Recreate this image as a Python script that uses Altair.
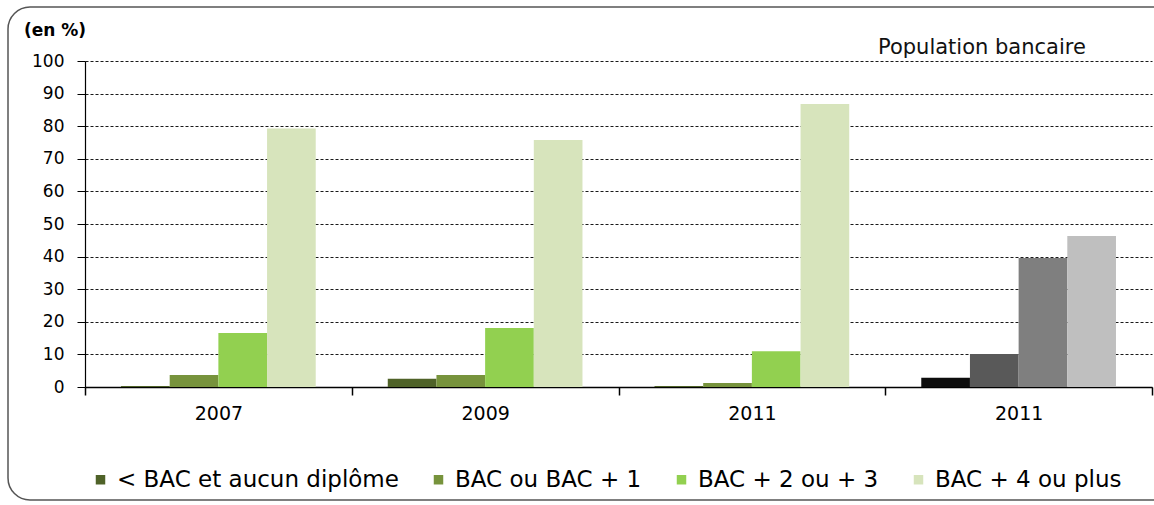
import json
import altair as alt
import pandas as pd

# Share of each education level, by survey year (last group: population bancaire)
years = ["2007", "2009", "2011", "2011"]
series = ["< BAC et aucun diplôme", "BAC ou BAC + 1", "BAC + 2 ou + 3", "BAC + 4 ou plus"]
below_bac = [0.3, 2.5, 0.3, 2.8]
bac_plus1 = [3.7, 3.7, 1.2, 10.1]
bac_plus3 = [16.6, 18.1, 11.0, 39.6]
bac_plus4 = [79.3, 75.8, 86.8, 46.3]

green_shades = ["#4f6228", "#77933c", "#92d050", "#d7e4bc"]
grey_shades = ["#0d0d0d", "#595959", "#7f7f7f", "#bfbfbf"]

values_by_series = [below_bac, bac_plus1, bac_plus3, bac_plus4]
rows = []
for g, year in enumerate(years):
    for s, name in enumerate(series):
        shade = name if g < 3 else "pop " + name
        rows.append({"group": g, "series": name, "shade": shade,
                     "value": values_by_series[s][g]})
df = pd.DataFrame(rows)

shade_domain = series + ["pop " + n for n in series]
shade_range = green_shades + grey_shades

FONT = "DejaVu Sans"
W, H = 1067, 326

bars = alt.Chart(df).mark_bar().encode(
    x=alt.X("group:O", title=None,
            scale=alt.Scale(paddingInner=0, paddingOuter=0),
            axis=alt.Axis(labelExpr=f"{json.dumps(years)}[datum.value]",
                          labelAngle=0, labelFontSize=19, labelFont=FONT,
                          labelColor="#000", labelPadding=9,
                          tickBand="extent", tickSize=8, tickColor="#000",
                          tickWidth=1.5, domainColor="#000", domainWidth=1.5,
                          grid=False)),
    xOffset=alt.XOffset("series:N", sort=series,
                        scale=alt.Scale(paddingInner=0, paddingOuter=0.74)),
    y=alt.Y("value:Q", title=None,
            scale=alt.Scale(domain=[0, 100], nice=False),
            axis=alt.Axis(values=list(range(0, 101, 10)), labelFontSize=17,
                          labelFont=FONT, labelColor="#000", labelPadding=13,
                          tickSize=8, tickColor="#000", domainColor="#000",
                          domainWidth=1.2, grid=True, gridColor="#000",
                          gridDash=[3, 2], gridWidth=1, gridOpacity=0.9)),
    color=alt.Color("shade:N",
                    scale=alt.Scale(domain=shade_domain, range=shade_range),
                    legend=alt.Legend(values=series, title=None, orient="none",
                                      direction="horizontal", columns=4,
                                      legendX=4, legendY=407,
                                      symbolType="square", symbolSize=90,
                                      symbolStrokeWidth=0, labelFontSize=23,
                                      labelFont=FONT, labelColor="#000",
                                      labelOffset=5, columnPadding=28,
                                      labelLimit=400)),
)

one = alt.Data(values=[{}])

frame = alt.Chart(one).mark_rect(
    fill=None, stroke="#555", strokeWidth=1.5, cornerRadius=22
).encode(x=alt.value(-77), x2=alt.value(1092), y=alt.value(-54), y2=alt.value(439))

unit = alt.Chart(one).mark_text(
    text="(en %)", font=FONT, fontSize=17, fontWeight="bold",
    align="left", baseline="middle", color="#000"
).encode(x=alt.value(-61), y=alt.value(-30))

caption = alt.Chart(one).mark_text(
    text="Population bancaire", font=FONT, fontSize=21,
    align="left", baseline="middle", color="#111"
).encode(x=alt.value(793), y=alt.value(-13))

chart = alt.layer(bars, frame, unit, caption).properties(
    width=W, height=H,
    autosize=alt.AutoSizeParams(type="none"),
    padding={"left": 85, "top": 61, "right": 2, "bottom": 118},
    background="white",
).configure_view(stroke=None)

chart.save("out.html", embed_options={"renderer": "svg", "actions": False})
